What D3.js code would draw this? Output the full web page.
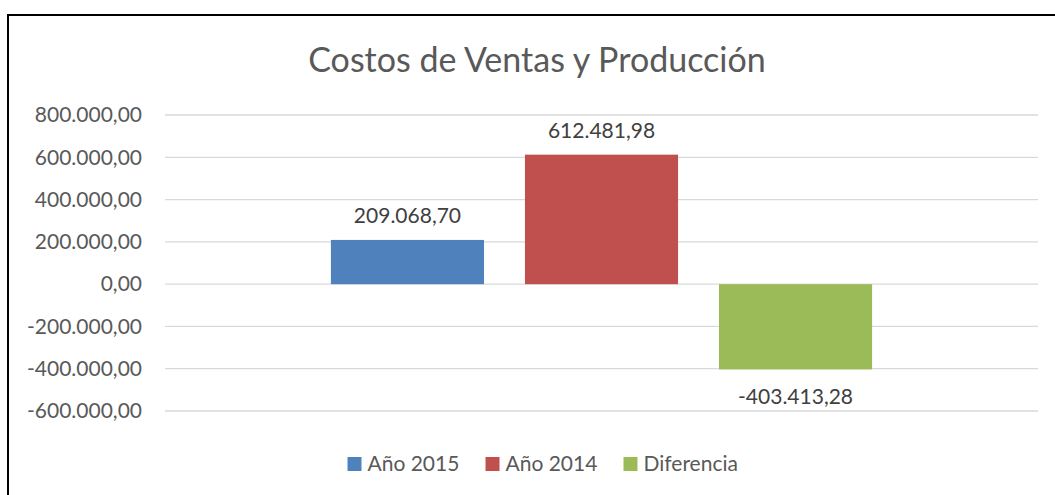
<!DOCTYPE html>
<html>
<head>
<meta charset="utf-8">
<script src="https://cdn.jsdelivr.net/npm/d3@7.9.0/dist/d3.min.js"></script>
<style>
  html, body { margin: 0; padding: 0; background: #fff; }
  svg { display: block; font-family: Lato, "Open Sans", sans-serif; }
</style>
</head>
<body>
<div id="chart"></div>
<script>
// data
const series = ["Año 2015", "Año 2014", "Diferencia"];
const values = [209068.70, 612481.98, -403413.28];
const colors = ["#4F81BD", "#C0504D", "#9BBB59"];
const yTicks = [-600000, -400000, -200000, 0, 200000, 400000, 600000, 800000];
const title = "Costos de Ventas y Producción";

const CONFIG = {
  WIDTH: 1055,
  HEIGHT: 495,
  PLOT: { left: 165, right: 1038, top: 115, bottom: 411 },
  TITLE_Y: 72,
  LEGEND_Y: 464,
  LEGEND_CX: 541,
  LEGEND_STEP: 138
};

const es = d3.formatLocale({ decimal: ",", thousands: ".", grouping: [3], currency: ["", ""], minus: "-" });
const fmt = es.format(",.2f");

const svg = d3.select("#chart").append("svg")
  .attr("width", CONFIG.WIDTH)
  .attr("height", CONFIG.HEIGHT);

// chart frame (only left and top edges fall inside the picture)
svg.append("rect")
  .attr("x", 8)
  .attr("y", 15)
  .attr("width", 1100)
  .attr("height", 600)
  .attr("fill", "#fff")
  .attr("stroke", "#000")
  .attr("stroke-width", 2);

const yScale = d3.scaleLinear()
  .domain([d3.min(yTicks), d3.max(yTicks)])
  .range([CONFIG.PLOT.bottom, CONFIG.PLOT.top]);

const xScale = d3.scaleBand()
  .domain(series)
  .range([CONFIG.PLOT.left, CONFIG.PLOT.right])
  .paddingInner(0.211)
  .paddingOuter(0.855);

// gridlines
svg.append("g")
  .selectAll("line")
  .data(yTicks)
  .join("line")
  .attr("x1", CONFIG.PLOT.left)
  .attr("x2", CONFIG.PLOT.right)
  .attr("y1", d => yScale(d))
  .attr("y2", d => yScale(d))
  .attr("stroke", "#d9d9d9")
  .attr("stroke-width", 1.3);

// y axis labels
svg.append("g")
  .attr("transform", `translate(${CONFIG.PLOT.left}, 0)`)
  .call(d3.axisLeft(yScale).tickValues(yTicks).tickFormat(fmt).tickSize(0).tickPadding(23))
  .call(g => g.select(".domain").remove())
  .call(g => g.selectAll("text")
    .attr("fill", "#595959")
    .attr("font-size", 21)
    .attr("font-family", "Lato, sans-serif"));

// bars
svg.append("g")
  .selectAll("rect")
  .data(series)
  .join("rect")
  .attr("x", d => xScale(d))
  .attr("width", xScale.bandwidth())
  .attr("y", (d, i) => yScale(Math.max(0, values[i])))
  .attr("height", (d, i) => Math.abs(yScale(values[i]) - yScale(0)))
  .attr("fill", (d, i) => colors[i]);

// data labels
svg.append("g")
  .selectAll("text")
  .data(series)
  .join("text")
  .attr("x", d => xScale(d) + xScale.bandwidth() / 2)
  .attr("y", (d, i) => values[i] >= 0 ? yScale(values[i]) - 17 : yScale(values[i]) + 35)
  .attr("text-anchor", "middle")
  .attr("font-size", 21)
  .attr("fill", "#404040")
  .text((d, i) => fmt(values[i]));

// title
svg.append("text")
  .attr("x", 537)
  .attr("y", CONFIG.TITLE_Y)
  .attr("text-anchor", "middle")
  .attr("font-size", 34)
  .attr("fill", "#595959")
  .text(title);

// legend
const legendStart = CONFIG.LEGEND_CX - (CONFIG.LEGEND_STEP * series.length - 27) / 2;
const legend = svg.append("g")
  .attr("transform", `translate(${legendStart}, ${CONFIG.LEGEND_Y})`);

series.forEach((s, i) => {
  const item = legend.append("g").attr("transform", `translate(${i * CONFIG.LEGEND_STEP}, 0)`);
  item.append("rect")
    .attr("x", 0).attr("y", -7)
    .attr("width", 14).attr("height", 14)
    .attr("fill", colors[i]);
  item.append("text")
    .attr("x", 20).attr("y", 7)
    .attr("font-size", 21)
    .attr("fill", "#595959")
    .text(s);
});
</script>
</body>
</html>
